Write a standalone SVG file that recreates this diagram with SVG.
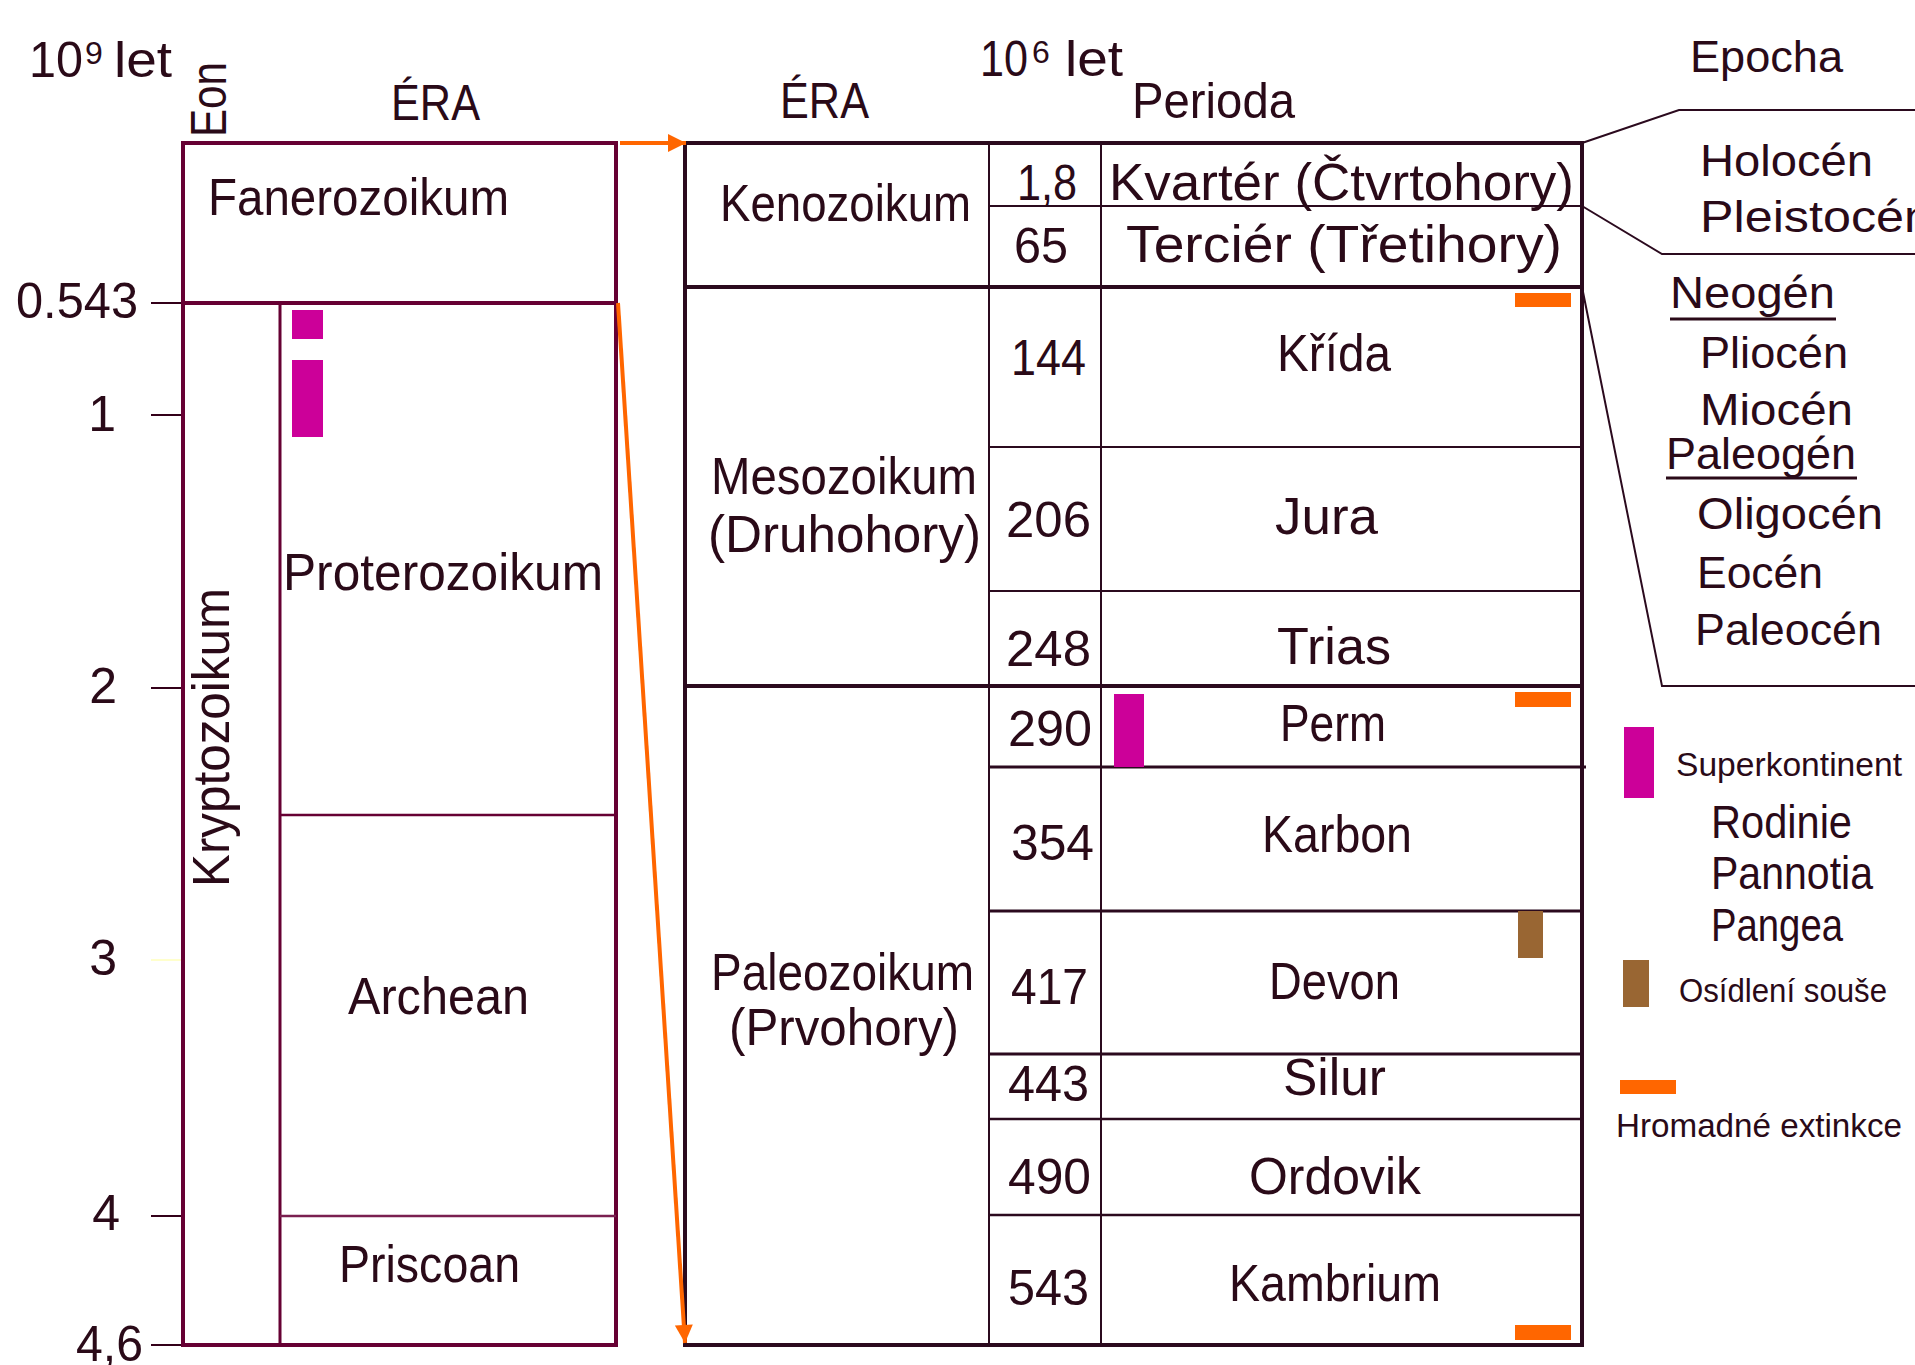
<svg xmlns="http://www.w3.org/2000/svg" width="1915" height="1365" viewBox="0 0 1915 1365">
<style>
  text { font-family: "Liberation Sans", "DejaVu Sans", sans-serif; fill: #2a0a18; }
  .w { font-size: 52px; }
  .d { font-size: 50px; }
  .h { font-size: 50px; }
  .e { font-size: 45px; }
  .ls { font-size: 34px; }
  .lb { font-size: 46px; }
  .sup { font-size: 32px; }
  .lbox { fill: none; stroke: #660033; }
  .tbl { fill: none; stroke: #2b0a1e; }
  .tick { stroke: #330019; stroke-width: 2; }
  .mag { fill: #cc0099; }
  .org { fill: #ff6600; }
  .brn { fill: #996633; }
  .conn { fill: none; stroke: #ff6600; stroke-width: 4; }
  .brk { fill: none; stroke: #2b0a1e; stroke-width: 2; }
</style>
<defs>
  <marker id="arr" viewBox="0 0 10 10" refX="10" refY="5" markerUnits="userSpaceOnUse" markerWidth="19" markerHeight="18" orient="auto">
    <path d="M0,0 L10,5 L0,10 z" fill="#ff6600"/>
  </marker>
</defs>
<rect width="1915" height="1365" fill="#ffffff"/>

<g id="headers">
  <text class="h" x="29" y="77" textLength="54" lengthAdjust="spacingAndGlyphs">10</text>
  <text class="sup" x="85" y="64">9</text>
  <text class="h" x="114" y="77" textLength="58" lengthAdjust="spacingAndGlyphs">let</text>
  <text class="h" transform="translate(226,137) rotate(-90)" textLength="75" lengthAdjust="spacingAndGlyphs">Eon</text>
  <text class="h" x="391" y="120" textLength="89" lengthAdjust="spacingAndGlyphs">ÉRA</text>
  <text class="h" x="780" y="118" textLength="89" lengthAdjust="spacingAndGlyphs">ÉRA</text>
  <text class="h" x="980" y="76" textLength="48" lengthAdjust="spacingAndGlyphs">10</text>
  <text class="sup" x="1032" y="63">6</text>
  <text class="h" x="1065" y="76" textLength="58" lengthAdjust="spacingAndGlyphs">let</text>
  <text class="h" x="1132" y="118" textLength="163" lengthAdjust="spacingAndGlyphs">Perioda</text>
  <text class="e" x="1690" y="72" textLength="153" lengthAdjust="spacingAndGlyphs">Epocha</text>
</g>

<g id="axis">
  <line class="tick" x1="151" y1="303" x2="183" y2="303"/>
  <line class="tick" x1="151" y1="415" x2="183" y2="415"/>
  <line class="tick" x1="151" y1="688" x2="183" y2="688"/>
  <line x1="151" y1="960" x2="183" y2="960" stroke="#ffffcc" stroke-width="2"/>
  <line class="tick" x1="151" y1="1216" x2="183" y2="1216"/>
  <line class="tick" x1="151" y1="1345" x2="183" y2="1345"/>
  <text class="d" x="16" y="318" textLength="122" lengthAdjust="spacingAndGlyphs">0.543</text>
  <text class="d" x="116" y="431" text-anchor="end">1</text>
  <text class="d" x="117" y="703" text-anchor="end">2</text>
  <text class="d" x="117" y="975" text-anchor="end">3</text>
  <text class="d" x="120" y="1230" text-anchor="end">4</text>
  <text class="d" x="76" y="1361" textLength="67" lengthAdjust="spacingAndGlyphs">4,6</text>
</g>

<g id="eon-table">
  <rect class="lbox" x="183" y="143" width="433" height="1202" stroke-width="4"/>
  <line class="lbox" x1="183" y1="303" x2="616" y2="303" stroke-width="4"/>
  <line class="lbox" x1="280" y1="303" x2="280" y2="1345" stroke-width="3"/>
  <line class="lbox" x1="280" y1="815" x2="616" y2="815" stroke-width="2.5"/>
  <line x1="280" y1="1216" x2="616" y2="1216" stroke="#7a2050" stroke-width="2.5"/>
</g>

<g id="fanerozoikum">
  <text class="w" x="208" y="215" textLength="301" lengthAdjust="spacingAndGlyphs">Fanerozoikum</text>
</g>
<g id="kryptozoikum">
  <text class="w" transform="translate(229,887) rotate(-90)" textLength="299" lengthAdjust="spacingAndGlyphs">Kryptozoikum</text>
</g>
<g id="proterozoikum">
  <rect class="mag" x="292" y="310" width="31" height="29"/>
  <rect class="mag" x="292" y="360" width="31" height="77"/>
  <text class="w" x="283" y="590" textLength="320" lengthAdjust="spacingAndGlyphs">Proterozoikum</text>
</g>
<g id="archean">
  <text class="w" x="348" y="1014" textLength="181" lengthAdjust="spacingAndGlyphs">Archean</text>
</g>
<g id="priscoan">
  <text class="w" x="339" y="1282" textLength="181" lengthAdjust="spacingAndGlyphs">Priscoan</text>
</g>

<g id="period-table">
  <rect class="tbl" x="685" y="143" width="897" height="1202" stroke-width="4"/>
  <line class="tbl" x1="989" y1="143" x2="989" y2="1345" stroke-width="2"/>
  <line class="tbl" x1="1101" y1="143" x2="1101" y2="1345" stroke-width="2"/>
  <line class="tbl" x1="989" y1="206" x2="1582" y2="206" stroke-width="2"/>
  <line class="tbl" x1="685" y1="287" x2="1582" y2="287" stroke-width="4"/>
  <line class="tbl" x1="989" y1="447" x2="1582" y2="447" stroke-width="2"/>
  <line class="tbl" x1="989" y1="591" x2="1582" y2="591" stroke-width="2"/>
  <line class="tbl" x1="685" y1="686" x2="1582" y2="686" stroke-width="4"/>
  <line class="tbl" x1="989" y1="767" x2="1586" y2="767" stroke-width="3"/>
  <line class="tbl" x1="989" y1="911" x2="1582" y2="911" stroke-width="3"/>
  <line class="tbl" x1="989" y1="1054" x2="1582" y2="1054" stroke-width="3"/>
  <line class="tbl" x1="989" y1="1119" x2="1582" y2="1119" stroke-width="2.5"/>
  <line class="tbl" x1="989" y1="1215" x2="1582" y2="1215" stroke-width="2.5"/>
</g>

<g id="kenozoikum">
  <text class="w" x="720" y="221" textLength="251" lengthAdjust="spacingAndGlyphs">Kenozoikum</text>
</g>
<g id="kvarter">
  <text class="d" x="1017" y="200" textLength="60" lengthAdjust="spacingAndGlyphs">1,8</text>
  <text class="w" x="1109" y="200" textLength="465" lengthAdjust="spacingAndGlyphs">Kvartér (Čtvrtohory)</text>
</g>
<g id="tercier">
  <text class="d" x="1014" y="263" textLength="54" lengthAdjust="spacingAndGlyphs">65</text>
  <text class="w" x="1126" y="262" textLength="436" lengthAdjust="spacingAndGlyphs">Terciér (Třetihory)</text>
</g>
<g id="mesozoikum">
  <text class="w" x="711" y="494" textLength="266" lengthAdjust="spacingAndGlyphs">Mesozoikum</text>
  <text class="w" x="708" y="552" textLength="273" lengthAdjust="spacingAndGlyphs">(Druhohory)</text>
</g>
<g id="krida">
  <rect class="org" x="1515" y="293" width="56" height="14"/>
  <text class="d" x="1011" y="375" textLength="75" lengthAdjust="spacingAndGlyphs">144</text>
  <text class="w" x="1277" y="371" textLength="114" lengthAdjust="spacingAndGlyphs">Křída</text>
</g>
<g id="jura">
  <text class="d" x="1006" y="537" textLength="85" lengthAdjust="spacingAndGlyphs">206</text>
  <text class="w" x="1275" y="534" textLength="103" lengthAdjust="spacingAndGlyphs">Jura</text>
</g>
<g id="trias">
  <text class="d" x="1006" y="666" textLength="85" lengthAdjust="spacingAndGlyphs">248</text>
  <text class="w" x="1277" y="664" textLength="114" lengthAdjust="spacingAndGlyphs">Trias</text>
</g>
<g id="paleozoikum">
  <text class="w" x="711" y="990" textLength="263" lengthAdjust="spacingAndGlyphs">Paleozoikum</text>
  <text class="w" x="729" y="1045" textLength="230" lengthAdjust="spacingAndGlyphs">(Prvohory)</text>
</g>
<g id="perm">
  <rect class="mag" x="1114" y="694" width="30" height="73"/>
  <rect class="org" x="1515" y="692" width="56" height="15"/>
  <text class="d" x="1008" y="746" textLength="84" lengthAdjust="spacingAndGlyphs">290</text>
  <text class="w" x="1280" y="741" textLength="106" lengthAdjust="spacingAndGlyphs">Perm</text>
</g>
<g id="karbon">
  <text class="d" x="1011" y="860" textLength="83" lengthAdjust="spacingAndGlyphs">354</text>
  <text class="w" x="1262" y="852" textLength="150" lengthAdjust="spacingAndGlyphs">Karbon</text>
</g>
<g id="devon">
  <rect class="brn" x="1518" y="911" width="25" height="47"/>
  <text class="d" x="1011" y="1004" textLength="77" lengthAdjust="spacingAndGlyphs">417</text>
  <text class="w" x="1269" y="999" textLength="131" lengthAdjust="spacingAndGlyphs">Devon</text>
</g>
<g id="silur">
  <text class="d" x="1008" y="1101" textLength="81" lengthAdjust="spacingAndGlyphs">443</text>
  <text class="w" x="1283" y="1095" textLength="103" lengthAdjust="spacingAndGlyphs">Silur</text>
</g>
<g id="ordovik">
  <text class="d" x="1008" y="1194" textLength="83" lengthAdjust="spacingAndGlyphs">490</text>
  <text class="w" x="1249" y="1194" textLength="172" lengthAdjust="spacingAndGlyphs">Ordovik</text>
</g>
<g id="kambrium">
  <rect class="org" x="1515" y="1325" width="56" height="15"/>
  <text class="d" x="1008" y="1305" textLength="81" lengthAdjust="spacingAndGlyphs">543</text>
  <text class="w" x="1229" y="1301" textLength="212" lengthAdjust="spacingAndGlyphs">Kambrium</text>
</g>

<g id="epochs-quaternary">
  <text class="e" x="1700" y="176" textLength="173" lengthAdjust="spacingAndGlyphs">Holocén</text>
  <text class="e" x="1700" y="232" textLength="232" lengthAdjust="spacingAndGlyphs">Pleistocén</text>
</g>
<g id="epochs-tertiary">
  <text class="e" x="1670" y="308" textLength="165" lengthAdjust="spacingAndGlyphs">Neogén</text>
  <line x1="1670" y1="319" x2="1836" y2="319" stroke="#2a0a18" stroke-width="3"/>
  <text class="e" x="1700" y="368" textLength="148" lengthAdjust="spacingAndGlyphs">Pliocén</text>
  <text class="e" x="1700" y="425" textLength="153" lengthAdjust="spacingAndGlyphs">Miocén</text>
  <text class="e" x="1666" y="469" textLength="190" lengthAdjust="spacingAndGlyphs">Paleogén</text>
  <line x1="1666" y1="478" x2="1857" y2="478" stroke="#2a0a18" stroke-width="3"/>
  <text class="e" x="1697" y="529" textLength="186" lengthAdjust="spacingAndGlyphs">Oligocén</text>
  <text class="e" x="1697" y="588" textLength="126" lengthAdjust="spacingAndGlyphs">Eocén</text>
  <text class="e" x="1695" y="645" textLength="187" lengthAdjust="spacingAndGlyphs">Paleocén</text>
</g>

<g id="legend">
  <rect class="mag" x="1624" y="727" width="30" height="71"/>
  <text class="ls" x="1676" y="776" textLength="226" lengthAdjust="spacingAndGlyphs">Superkontinent</text>
  <text class="lb" x="1711" y="838" textLength="141" lengthAdjust="spacingAndGlyphs">Rodinie</text>
  <text class="lb" x="1711" y="889" textLength="162" lengthAdjust="spacingAndGlyphs">Pannotia</text>
  <text class="lb" x="1711" y="941" textLength="132" lengthAdjust="spacingAndGlyphs">Pangea</text>
  <rect class="brn" x="1623" y="960" width="26" height="47"/>
  <text class="ls" x="1679" y="1002" textLength="208" lengthAdjust="spacingAndGlyphs">Osídlení souše</text>
  <rect class="org" x="1620" y="1080" width="56" height="14"/>
  <text class="ls" x="1616" y="1137" textLength="286" lengthAdjust="spacingAndGlyphs">Hromadné extinkce</text>
</g>

<g id="connectors">
  <line class="conn" x1="620" y1="143" x2="686" y2="143" marker-end="url(#arr)"/>
  <line class="conn" x1="618" y1="303" x2="685" y2="1343" marker-end="url(#arr)"/>
  <polyline class="brk" points="1582,143 1679,110 1915,110"/>
  <polyline class="brk" points="1582,206 1662,254 1915,254"/>
  <polyline class="brk" points="1582,287 1662,686 1915,686"/>
</g>
</svg>
